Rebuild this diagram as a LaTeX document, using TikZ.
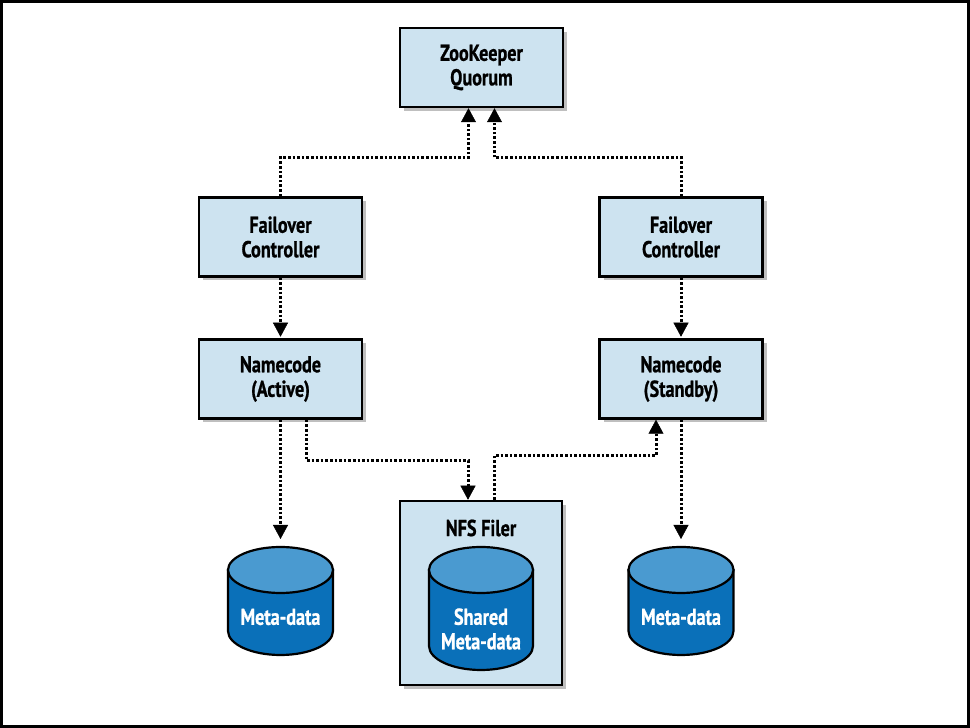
\documentclass[tikz,border=0pt]{standalone}
\usepackage{fontspec}
\setmainfont{PT Sans}[FakeStretch=0.79]
\usetikzlibrary{arrows.meta,shadows}
\definecolor{boxfill}{RGB}{205,227,240}
\definecolor{dbtop}{RGB}{74,154,208}
\definecolor{dbbody}{RGB}{10,112,185}
\newcommand\dbcyl[5]{%
  \coordinate (#1top) at (#2,#3);
  \filldraw[fill=dbbody, line width=2.2pt] (#2-#5,#3-23) -- (#2-#5,#4+24)
    arc[start angle=180,end angle=360,x radius=#5,y radius=24] -- (#2+#5,#3-23) -- cycle;
  \filldraw[fill=dbtop, line width=2.2pt] (#2,#3-23) ellipse[x radius=#5, y radius=23];
}
\tikzset{
  boxfont/.style={font=\bfseries\addfontfeatures{FakeBold=0.8}\fontsize{23}{24.5}\selectfont},
  box/.style={boxfont, draw=black, line width=2.5pt, fill=boxfill,
    minimum width=163pt, minimum height=79pt, align=center, inner sep=0pt,
    drop shadow={shadow xshift=4pt, shadow yshift=-4pt, fill=black, opacity=0.25}},
  lbl/.style={boxfont, inner sep=0pt},
  dbtxt/.style={boxfont, text=white, align=center, inner sep=0pt},
  conn/.style={line width=3pt, dash pattern=on 2.6pt off 2pt,
    -{Triangle[width=15pt,length=14pt,line width=0.5pt]}},
}
\begin{document}
\begin{tikzpicture}[x=1pt,y=1pt]
\useasboundingbox (0,0) rectangle (970,728);
\fill[white] (0,0) rectangle (970,728);
\draw[line width=3pt] (1.5,1.5) rectangle (968.5,726.5);

\node[box] (zk) at (481.5,660.5) {ZooKeeper\\Quorum};
\node[box] (fcl) at (280.5,491) {Failover\\Controller};
\node[box] (fcr) at (681,491) {Failover\\Controller};
\node[box] (nna) at (280.5,349) {Namecode\\(Active)};
\node[box] (nns) at (681,349) {Namecode\\(Standby)};
\node[box, minimum height=184pt, minimum width=162pt] (nfs) at (481,135) {};
\node[lbl] (nfsl) at (481,200) {NFS Filer};

\dbcyl{cylL}{280.5}{181}{73}{52.5}
\dbcyl{cylS}{481}{181}{58}{52}
\dbcyl{cylR}{681}{181}{73}{52.5}

\node[dbtxt] (dL) at (280.5,111) {Meta-data};
\node[dbtxt] (dS) at (481,99) {Shared\\Meta-data};
\node[dbtxt] (dR) at (681,111) {Meta-data};

\draw[conn] (fcl.north) -- ++(0,38.5) -| ([xshift=-13pt]zk.south);
\draw[conn] (fcr.north) -- ++(0,38.5) -| ([xshift=13pt]zk.south);
\draw[conn, shorten >=1.5pt] (fcl.south) -- (nna.north);
\draw[conn, shorten >=1.5pt] (fcr.south) -- (nns.north);
\draw[conn, shorten >=8pt] (nna.south) -- (cylLtop);
\draw[conn, shorten >=8pt] (nns.south) -- (cylRtop);
\draw[conn] ([xshift=26pt]nna.south) -- ++(0,-41) -| ([xshift=-13pt]nfs.north);
\draw[conn] ([xshift=13pt]nfs.north) -- ++(0,44) -| ([xshift=-25pt]nns.south);
\end{tikzpicture}
\end{document}
